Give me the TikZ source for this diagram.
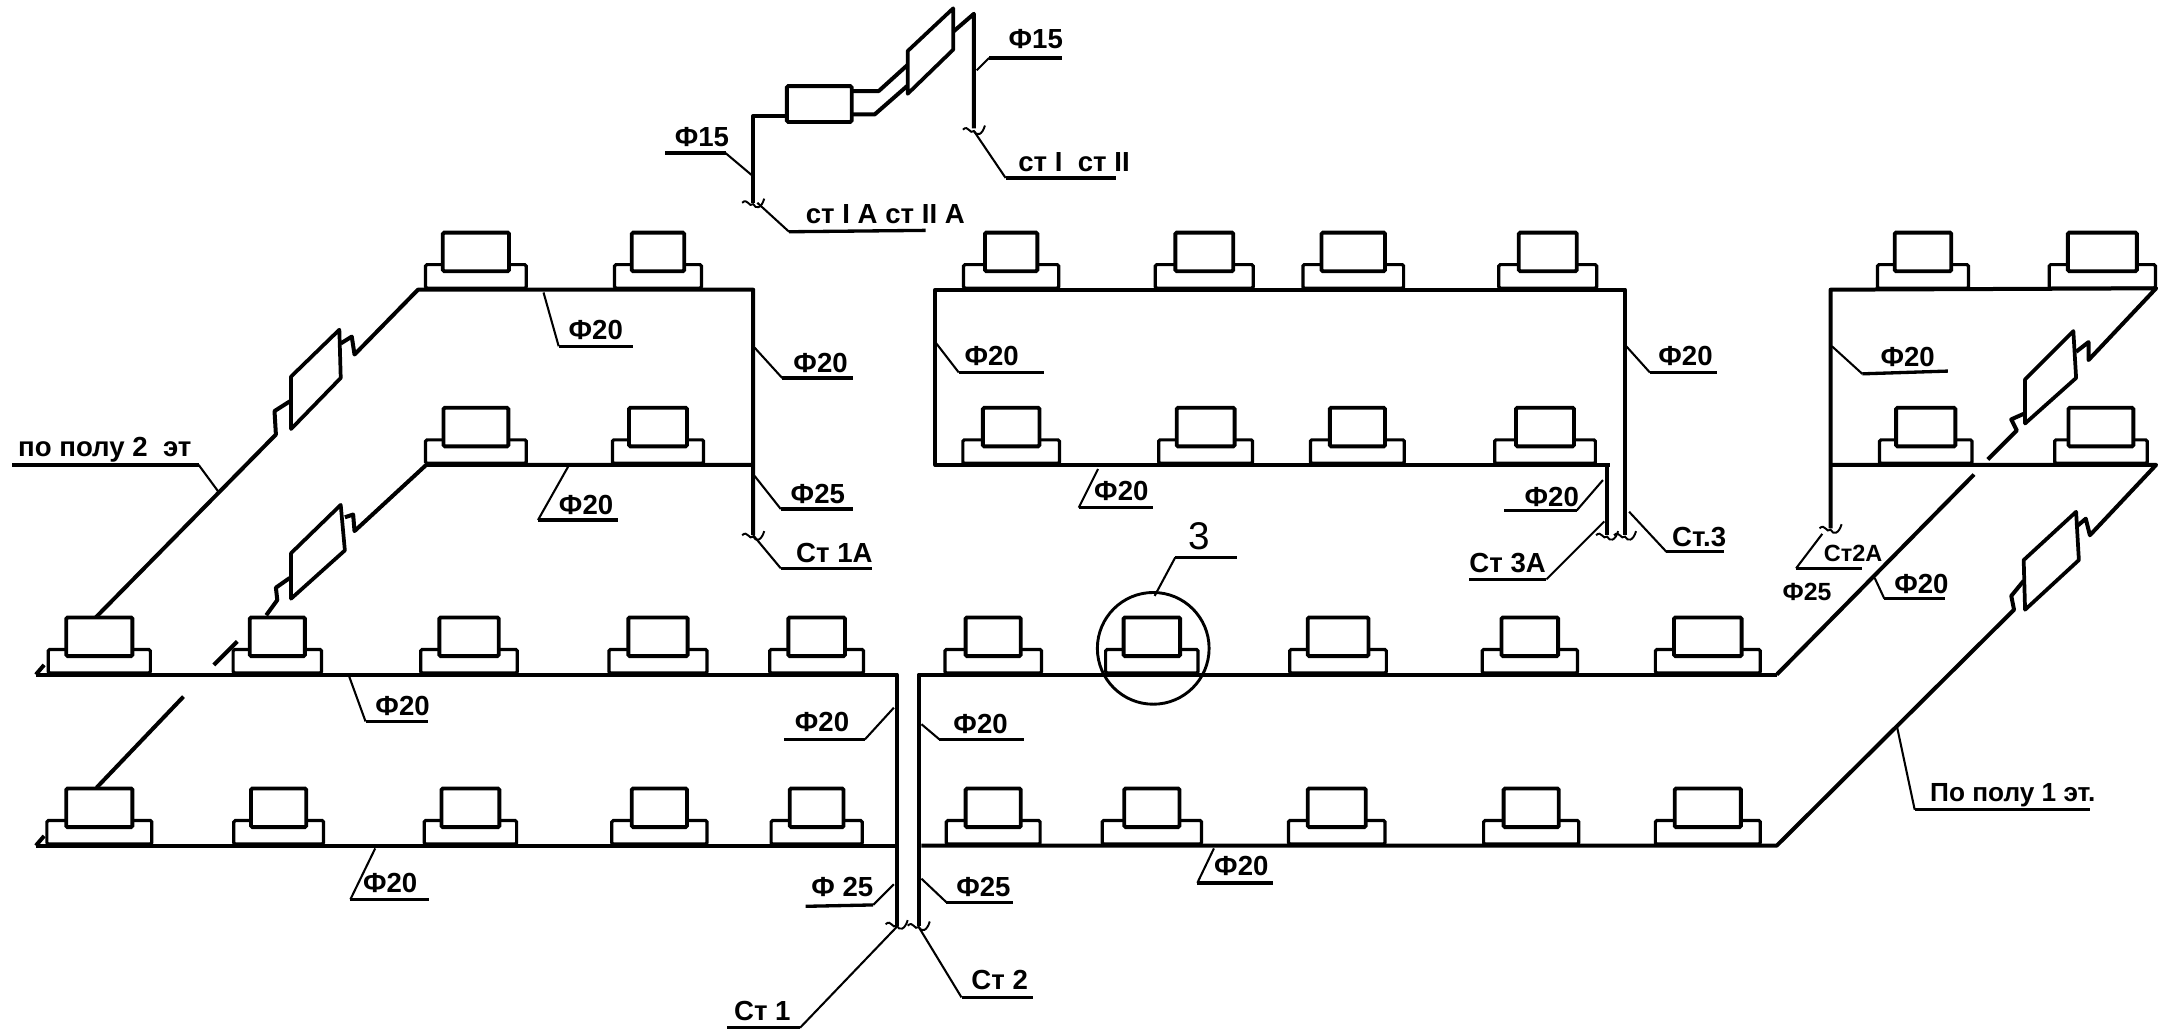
\documentclass[tikz,border=0pt]{standalone}
\usepackage{fontspec}
\setmainfont{Liberation Sans}
\usetikzlibrary{positioning,calc}
\tikzstyle{pipe} = [draw, line width=2.9pt, line join=round]
\tikzstyle{lead} = [draw, line width=1.5pt]
\tikzstyle{shelf} = [draw, line width=2.4pt]
\tikzstyle{curl} = [draw, line width=1.4pt]
\tikzstyle{panel} = [draw, line width=2.7pt, line join=round]
\tikzstyle{heaterbase} = [draw, line width=2.3pt, anchor=south, minimum height=17pt, inner sep=0pt, rounded corners=1pt]
\tikzstyle{heaterbox} = [draw, line width=2.8pt, fill=white, anchor=south, minimum height=28pt, inner sep=0pt, rounded corners=1pt]
\tikzstyle{caption} = [anchor=base west, inner sep=0pt, font=\fontsize{20}{24}\selectfont\bfseries]
\tikzstyle{smallcap} = [caption, font=\fontsize{17}{20}\selectfont\bfseries]
% name, centre x, pipe y, box width, base width
\newcommand{\radiator}[5]{%
\node (#1b)[heaterbase, minimum width=#5pt] at (#2,#3) {};
\node (#1)[heaterbox, minimum width=#4pt] at ($(#2,#3)+(0,-12)$) {};}
% four corners of a radiator seen edge on
\newcommand{\slanted}[4]{\path [panel] #1 -- #2 -- #3 -- #4 -- cycle;}
% end of a riser
\newcommand{\riserend}[2]{\path [curl] (#1-8,#2-1) .. controls (#1-4,#2-5) and (#1-3,#2+3) .. (#1,#2) .. controls (#1+2,#2+4) and (#1+6,#2+3) .. (#1+8,#2-4);}
% leader with a shelf and its text
\newcommand{\callout}[8]{%
\path [lead] #1 -- #2;
\path [shelf] #2 -- #3;
\node (#4)[#5] at (#6,#7) {#8};}
\begin{document}
\begin{tikzpicture}[x=1pt,y=-1pt]
  \useasboundingbox (0,0) rectangle (1568,749);

  % Pipes of the ground floor
  \path [pipe] (26,489) -- (32,482);
  \path [pipe] (26,489) -- (650,489) -- (650,671);
  \path [pipe] (26,613) -- (32,606);
  \path [pipe] (26,613) -- (650,613);
  \path [pipe] (1288,489) -- (666,489) -- (666,671);
  \path [pipe] (668,613) -- (1288,613) -- (1460,442) -- (1458,432) -- (1467,421);
  \path [pipe] (1288,489) -- (1431,344);
  \path [pipe] (70,571) -- (133,505);
  \path [pipe] (155,482) -- (172,465);
  \path [pipe] (193,446) -- (201,435) -- (200,426) -- (210,419);

  % Pipes of the upper floor, left wing
  \path [pipe] (68,449) -- (200,315) -- (199,298) -- (210,291);
  \path [pipe] (247,249) -- (255,244) -- (257,257) -- (303,210) -- (546,210) -- (546,388);
  \path [pipe] (250,375) -- (256,373) -- (257,385) -- (309,337) -- (546,337);

  % Pipes of the upper floor, middle wing
  \path [pipe] (1167,337) -- (678,337) -- (678,210) -- (1178,210) -- (1178,388);
  \path [pipe] (1165,337) -- (1165,388);

  % Pipes of the upper floor, right wing
  \path [pipe] (1327,383) -- (1327,210) -- (1563,209) -- (1514,261) -- (1514,248) -- (1505,255);
  \path [pipe] (1327,337) -- (1563,337) -- (1515,388) -- (1512,376) -- (1505,382);
  \path [pipe] (1441,333) -- (1462,312) -- (1458,304) -- (1467,300);

  % Riser of the top sketch
  \path [pipe] (569,84) -- (546,84) -- (546,147);
  \path [pipe] (617,66) -- (637,66) -- (658,47);
  \path [pipe] (617,83) -- (634,83) -- (658,62);
  \path [pipe] (691,23) -- (706,10) -- (706,93);
  \node (topbox)[heaterbox, anchor=north west, minimum width=47pt, minimum height=26pt] at (569,61) {};

  % Edge-on radiators
  \slanted{(211,273)}{(246,239)}{(247,274)}{(211,311)}
  \slanted{(211,401)}{(247,366)}{(250,399)}{(211,434)}
  \slanted{(1467,406)}{(1505,371)}{(1507,406)}{(1468,442)}
  \slanted{(1468,275)}{(1503,240)}{(1505,274)}{(1468,307)}
  \slanted{(658,37)}{(691,6)}{(691,36)}{(658,68)}

  % Radiators
  \radiator{ra}{345}{210}{48}{73}
  \radiator{rb}{477}{210}{38}{63}
  \radiator{rc}{345}{337}{47}{73}
  \radiator{rd}{477}{337}{42}{66}
  \radiator{re}{733}{210}{38}{69}
  \radiator{rf}{873}{210}{42}{71}
  \radiator{rg}{981}{210}{46}{73}
  \radiator{rh}{1122}{210}{42}{71}
  \radiator{ri}{733}{337}{41}{70}
  \radiator{rj}{874}{337}{42}{68}
  \radiator{rk}{984}{337}{40}{68}
  \radiator{rl}{1120}{337}{42}{73}
  \radiator{rm}{1394}{210}{41}{66}
  \radiator{rn}{1524}{210}{50}{77}
  \radiator{ro}{1396}{337}{43}{67}
  \radiator{rp}{1523}{337}{47}{67}
  \radiator{sa}{72}{489}{48}{74}
  \radiator{sb}{201}{489}{40}{64}
  \radiator{sc}{340}{489}{43}{70}
  \radiator{sd}{477}{489}{43}{71}
  \radiator{se}{592}{489}{41}{68}
  \radiator{sf}{720}{489}{40}{70}
  \radiator{sg}{835}{489}{41}{67}
  \radiator{sh}{970}{489}{44}{70}
  \radiator{si}{1109}{489}{41}{69}
  \radiator{sj}{1238}{489}{49}{76}
  \radiator{ta}{72}{613}{48}{76}
  \radiator{tb}{202}{613}{40}{65}
  \radiator{tc}{341}{613}{42}{67}
  \radiator{td}{478}{613}{40}{69}
  \radiator{te}{592}{613}{39}{66}
  \radiator{tf}{720}{613}{40}{68}
  \radiator{tg}{835}{613}{40}{72}
  \radiator{th}{969}{613}{42}{70}
  \radiator{ti}{1110}{613}{40}{69}
  \radiator{tj}{1238}{613}{48}{76}

  % Circle round one radiator
  \node (ring)[draw, circle, line width=2.1pt, minimum size=81pt] at (836,470) {};

  % Riser ends
  \riserend{546}{389}
  \riserend{546}{148}
  \riserend{706}{95}
  \riserend{650}{671}
  \riserend{666}{672}
  \riserend{1165}{389}
  \riserend{1178}{389}
  \riserend{1327}{384}

  % Leaders and their texts
  \callout{(158,356)}{(144,337)}{(9,337)}{c2et}{caption}{13}{331}{по полу 2\ \ эт}
  \callout{(1375,526)}{(1388,587)}{(1515,587)}{c1et}{caption,font=\fontsize{19}{24}\selectfont\bfseries}{1399}{581}{По полу 1 эт.}
  \callout{(545,127)}{(526,111)}{(482,111)}{cta}{caption}{489}{106}{Ф15}
  \callout{(708,51)}{(717,42)}{(770,42)}{ctb}{caption}{731}{35}{Ф15}
  \callout{(549,147)}{(572,168)}{(671,167)}{csa}{caption}{584}{162}{ст I А ст II А}
  \callout{(706,95)}{(729,129)}{(809,129)}{csb}{caption}{738}{124}{ст\ I\ \ ст\ II}
  \callout{(394,212)}{(405,251)}{(459,251)}{da}{caption}{412}{246}{Ф20}
  \callout{(547,252)}{(567,274)}{(618,274)}{db}{caption}{575}{270}{Ф20}
  \callout{(547,345)}{(566,369)}{(618,369)}{dc}{caption}{573}{365}{Ф25}
  \callout{(546,388)}{(566,412)}{(632,412)}{dd}{caption}{577}{408}{Ст 1А}
  \callout{(412,338)}{(390,377)}{(448,377)}{de}{caption}{405}{373}{Ф20}
  \callout{(253,490)}{(265,523)}{(310,523)}{df}{caption}{272}{519}{Ф20}
  \callout{(272,615)}{(254,652)}{(311,652)}{dg}{caption}{263}{647}{Ф20}
  \callout{(880,615)}{(868,640)}{(923,640)}{dh}{caption}{880}{635}{Ф20}
  \callout{(678,248)}{(695,270)}{(757,270)}{di}{caption}{699}{265}{Ф20}
  \callout{(1178,250)}{(1196,270)}{(1245,270)}{dj}{caption}{1202}{265}{Ф20}
  \callout{(796,340)}{(782,368)}{(836,368)}{dk}{caption}{793}{363}{Ф20}
  \callout{(1162,348)}{(1143,370)}{(1090,370)}{dl}{caption}{1105}{367}{Ф20}
  \callout{(1163,378)}{(1121,420)}{(1065,420)}{dm}{caption}{1065}{415}{Ст 3А}
  \callout{(1181,371)}{(1208,400)}{(1250,400)}{dn}{caption}{1212}{396}{Ст.3}
  \callout{(1328,251)}{(1350,271)}{(1412,269)}{dp}{caption}{1363}{266}{Ф20}
  \callout{(1321,387)}{(1302,412)}{(1350,412)}{dq}{smallcap}{1322}{407}{Ст2А}
  \callout{(1359,419)}{(1366,434)}{(1410,434)}{dr}{caption}{1373}{430}{Ф20}
  \callout{(648,513)}{(627,536)}{(568,536)}{ds}{caption}{576}{530}{Ф20}
  \callout{(668,525)}{(681,536)}{(742,536)}{dt}{caption}{691}{532}{Ф20}
  \callout{(648,641)}{(633,656)}{(584,657)}{du}{caption}{588}{650}{Ф 25}
  \callout{(668,637)}{(686,654)}{(734,654)}{dv}{caption}{693}{650}{Ф25}
  \callout{(650,672)}{(580,745)}{(527,745)}{dw}{caption}{532}{740}{Ст 1}
  \callout{(666,672)}{(697,723)}{(749,723)}{dx}{caption}{704}{717}{Ст 2}
  \callout{(837,432)}{(852,404)}{(897,404)}{dy}{caption,font=\fontsize{28}{30}\selectfont}{861}{398}{3}
  \node (dz)[caption,font=\fontsize{18}{20}\selectfont\bfseries] at (1292,435) {Ф25};
\end{tikzpicture}
\end{document}
